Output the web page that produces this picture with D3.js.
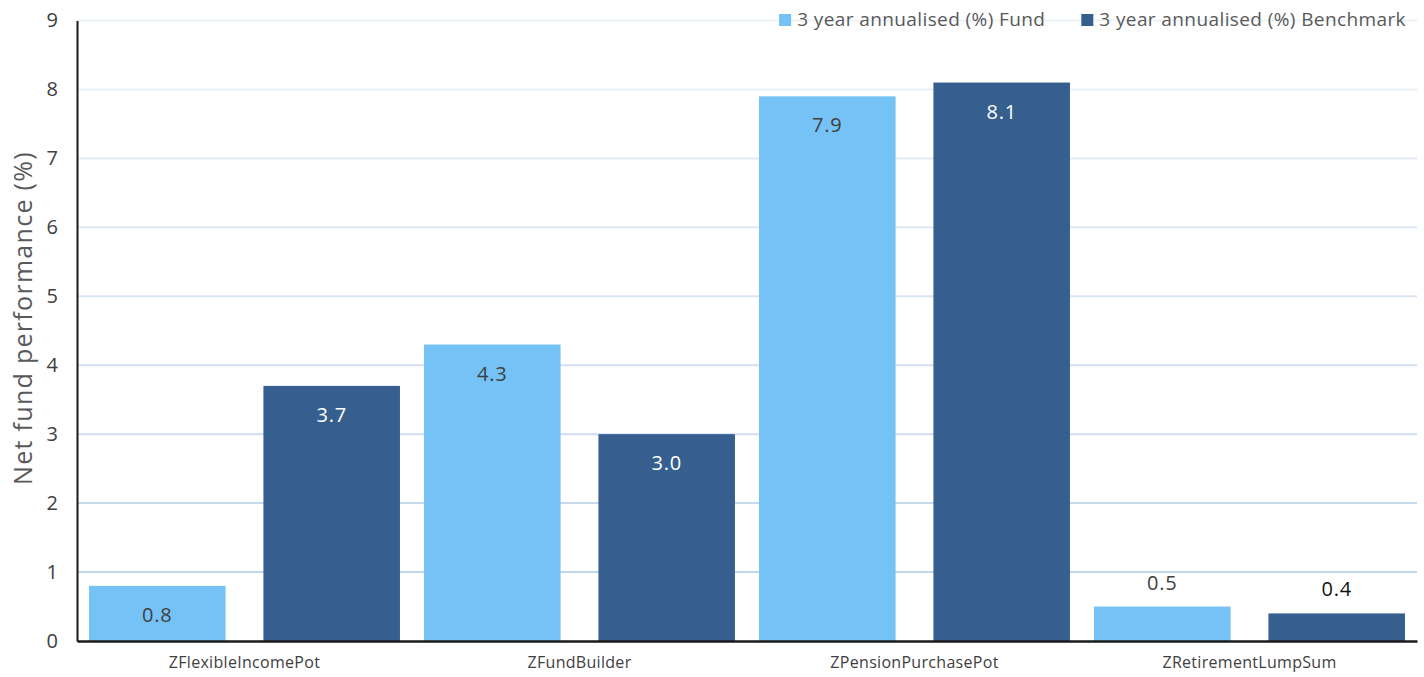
<!DOCTYPE html>
<html>
<head>
<meta charset="utf-8">
<script src="https://cdn.jsdelivr.net/npm/d3@7"></script>
<style>
  html, body { margin: 0; padding: 0; background: #ffffff; }
  svg { display: block; font-family: "Open Sans", "Noto Sans", sans-serif; }
</style>
</head>
<body>
<svg id="chart" width="1424" height="677"></svg>
<script>
// Net fund performance, 3 year annualised
const categories = ["ZFlexibleIncomePot", "ZFundBuilder", "ZPensionPurchasePot", "ZRetirementLumpSum"];
const seriesNames = ["3 year annualised (%) Fund", "3 year annualised (%) Benchmark"];
const fundValues = [0.8, 4.3, 7.9, 0.5];
const benchmarkValues = [3.7, 3.0, 8.1, 0.4];
const yTicks = [0, 1, 2, 3, 4, 5, 6, 7, 8, 9];

const colors = ["#75c2f6", "#365f8f"];
const labelInside = ["#404040", "#ffffff"];

const svg = d3.select("#chart");
const margin = { left: 77, right: 7, top: 20.5, bottom: 36 };
const W = 1424, H = 677;

const x0 = d3.scaleBand().domain(categories).range([margin.left, W - margin.right]).paddingInner(0).paddingOuter(0);
const x1 = d3.scaleBand().domain(seriesNames).range([0, x0.bandwidth()]).paddingInner(0.217).paddingOuter(0.069);
const y = d3.scaleLinear().domain([0, 9]).range([H - margin.bottom, margin.top]);

// gridlines, lighter toward the top
const gridColor = d3.scaleLinear().domain([1, 9]).range(["#c3d5ec", "#eef3f9"]);
svg.append("g").selectAll("line").data(yTicks.filter(t => t > 0)).join("line")
  .attr("x1", margin.left).attr("x2", W - margin.right)
  .attr("y1", d => y(d)).attr("y2", d => y(d))
  .attr("stroke", d => gridColor(d)).attr("stroke-width", 2);

// bars
const rows = categories.map((c, i) => ({ cat: c, vals: [fundValues[i], benchmarkValues[i]] }));
const groups = svg.append("g").selectAll("g").data(rows).join("g")
  .attr("transform", d => `translate(${x0(d.cat)},0)`);

groups.selectAll("rect").data(d => d.vals.map((v, k) => ({ v, k }))).join("rect")
  .attr("x", d => x1(seriesNames[d.k]))
  .attr("width", x1.bandwidth())
  .attr("y", d => y(d.v))
  .attr("height", d => y(0) - y(d.v))
  .attr("fill", d => colors[d.k]);

// value labels: inside the bar top, or above it for the shortest bars
groups.selectAll("text").data(d => d.vals.map((v, k) => ({ v, k }))).join("text")
  .attr("x", d => x1(seriesNames[d.k]) + x1.bandwidth() / 2)
  .attr("y", d => d.v < 0.6 ? y(d.v) - 17 : y(d.v) + 36)
  .attr("text-anchor", "middle")
  .attr("font-size", 20)
  .attr("letter-spacing", 0.8)
  .attr("fill", d => d.v < 0.6 ? (d.k === 1 ? "#111111" : "#404040") : labelInside[d.k])
  .text(d => d.v.toFixed(1));

// y axis
const yAxis = d3.axisLeft(y).tickValues(yTicks).tickSize(0).tickPadding(19).tickFormat(d3.format("d"));
const gy = svg.append("g").attr("transform", `translate(${margin.left},0)`).call(yAxis);
gy.select(".domain").attr("stroke", "#1a1a1a").attr("stroke-width", 2);
gy.selectAll("text").attr("font-size", 20).attr("fill", "#404040").attr("font-family", "Open Sans, sans-serif");

// x axis
const xAxis = d3.axisBottom(x0).tickSize(0).tickPadding(16);
const gx = svg.append("g").attr("transform", `translate(0,${y(0)})`).call(xAxis);
gx.select(".domain").attr("stroke", "#1a1a1a").attr("stroke-width", 2.5);
gx.selectAll("text").attr("font-size", 16).attr("letter-spacing", 0.3).attr("fill", "#404040").attr("font-family", "Open Sans, sans-serif");

// y axis title
svg.append("text")
  .attr("transform", `translate(32,318) rotate(-90)`)
  .attr("text-anchor", "middle")
  .attr("font-size", 25)
  .attr("letter-spacing", 1.3)
  .attr("fill", "#595959")
  .text("Net fund performance (%)");

// legend, laid out right to left
const legend = svg.append("g");
let cursor = 1406;
for (let k = seriesNames.length - 1; k >= 0; k--) {
  const t = legend.append("text").attr("y", 26).attr("font-size", 19).attr("letter-spacing", 0.4)
    .attr("fill", "#595959").attr("text-anchor", "end").attr("x", cursor).text(seriesNames[k]);
  const w = t.node().getComputedTextLength();
  legend.append("rect").attr("x", cursor - w - 18).attr("y", 14).attr("width", 12).attr("height", 12).attr("fill", colors[k]);
  cursor = cursor - w - 18 - 36;
}
</script>
</body>
</html>
